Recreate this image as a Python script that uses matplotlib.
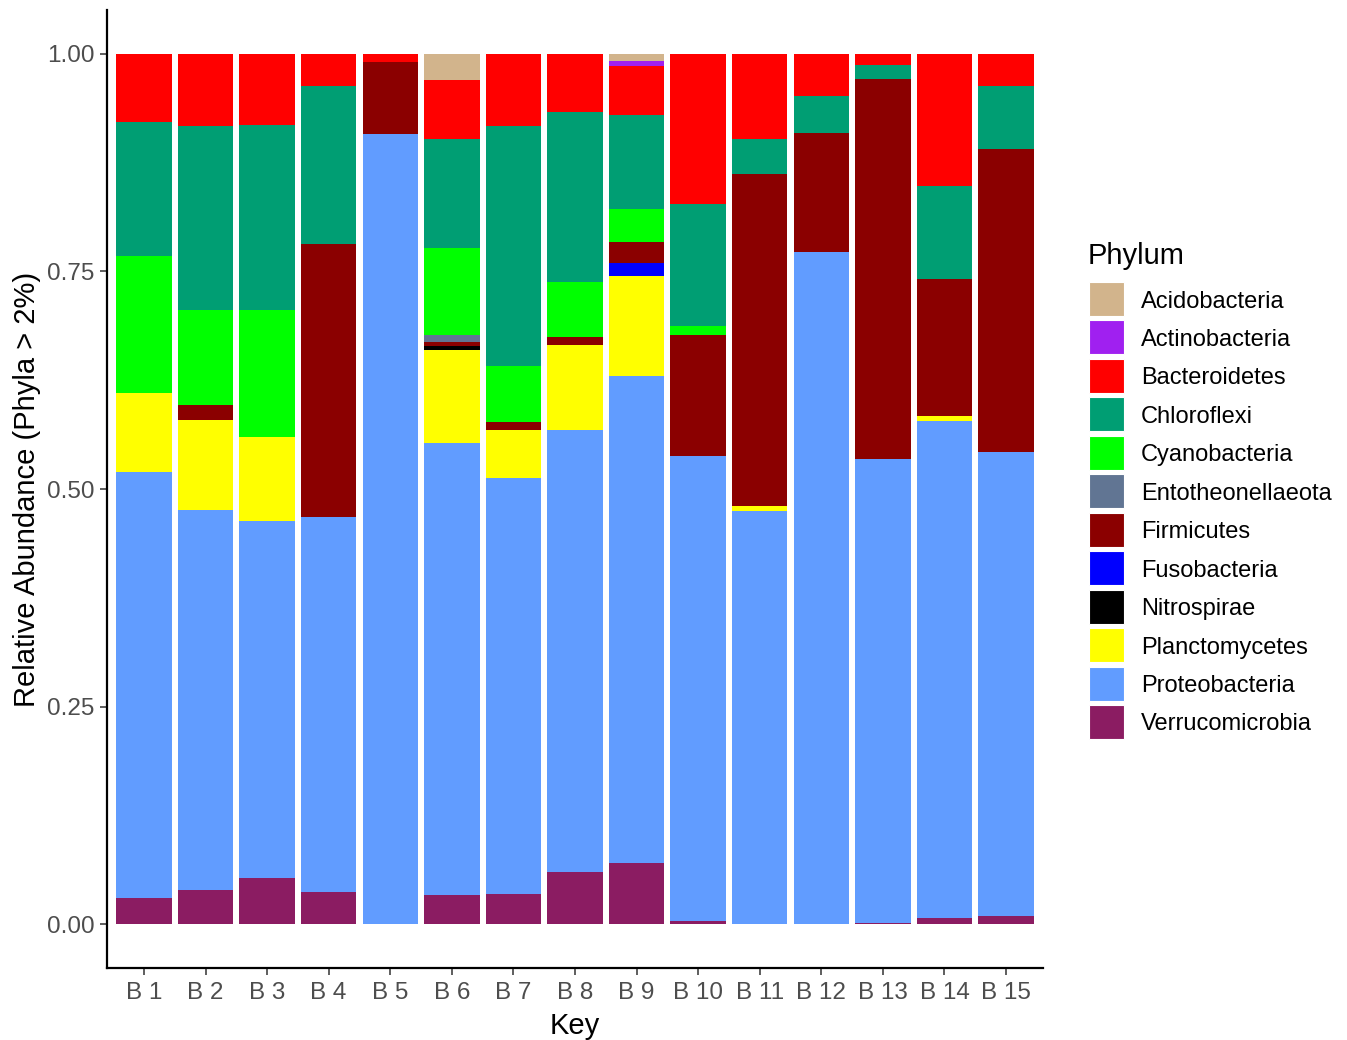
# Stacked relative abundance of phyla (> 2%) per sample
import numpy as np
import matplotlib.pyplot as plt
from matplotlib.patches import Rectangle

plt.rcParams['font.family'] = ['Liberation Sans', 'DejaVu Sans']

keys = ['B 1', 'B 2', 'B 3', 'B 4', 'B 5', 'B 6', 'B 7', 'B 8',
        'B 9', 'B 10', 'B 11', 'B 12', 'B 13', 'B 14', 'B 15']

# legend order (top of the stack first)
phyla = ['Acidobacteria', 'Actinobacteria', 'Bacteroidetes', 'Chloroflexi',
         'Cyanobacteria', 'Entotheonellaeota', 'Firmicutes', 'Fusobacteria',
         'Nitrospirae', 'Planctomycetes', 'Proteobacteria', 'Verrucomicrobia']
colours = ['#D2B48C', '#A020F0', '#FF0000', '#009E73', '#00FF00', '#617593',
           '#8B0000', '#0000FF', '#000000', '#FFFF00', '#619CFF', '#8B1C62']

# relative abundances per sample
acidobacteria     = [0, 0, 0, 0, 0, .030, 0, 0, .009, 0, 0, 0, 0, 0, 0]
actinobacteria    = [0, 0, 0, 0, 0, 0, 0, 0, .005, 0, 0, 0, 0, 0, 0]
bacteroidetes     = [.079, .083, .082, .037, .010, .068, .083, .067, .057, .173, .098, .049, .013, .152, .037]
chloroflexi       = [.153, .211, .213, .182, 0, .125, .276, .195, .107, .140, .040, .042, .016, .107, .073]
cyanobacteria     = [.158, .109, .145, 0, 0, .100, .064, .063, .038, .010, 0, 0, 0, 0, 0]
entotheonellaeota = [0, 0, 0, 0, 0, .008, 0, 0, 0, 0, 0, 0, 0, 0, 0]
firmicutes        = [0, .018, 0, .313, .082, .005, .009, .010, .024, .139, .382, .137, .437, .157, .347]
fusobacteria      = [0, 0, 0, 0, 0, 0, 0, 0, .016, 0, 0, 0, 0, 0, 0]
nitrospirae       = [0, 0, 0, 0, 0, .004, 0, 0, 0, 0, 0, 0, 0, 0, 0]
planctomycetes    = [.091, .103, .097, 0, 0, .107, .055, .097, .114, 0, .005, 0, 0, .006, 0]
proteobacteria    = [.489, .436, .410, .431, .908, .519, .478, .508, .560, .534, .475, .772, .532, .571, .533]
verrucomicrobia   = [.030, .040, .053, .037, 0, .034, .035, .060, .070, .004, 0, 0, .002, .007, .010]

abund = [acidobacteria, actinobacteria, bacteroidetes, chloroflexi,
         cyanobacteria, entotheonellaeota, firmicutes, fusobacteria,
         nitrospirae, planctomycetes, proteobacteria, verrucomicrobia]

W, H = 1347, 1040
fig = plt.figure(figsize=(W / 100, H / 100), dpi=100)
ax = fig.add_axes([107 / W, 1 - 968 / H, (1043 - 107) / W, (968 - 10) / H])

x = np.arange(1, len(keys) + 1)
bottom = np.zeros(len(keys))
# stack from the last level upwards, like ggplot does
for name, col, vals in reversed(list(zip(phyla, colours, abund))):
    vals = np.array(vals)
    ax.bar(x, vals, width=0.9, bottom=bottom, color=col, linewidth=0)
    bottom += vals

ax.set_xlim(0.4, 15.6)
ax.set_ylim(-0.05, 1.05)
ax.set_xticks(x)
ax.set_xticklabels(keys)
ax.set_yticks([0, 0.25, 0.5, 0.75, 1.0])
ax.set_yticklabels(['0.00', '0.25', '0.50', '0.75', '1.00'])
ax.tick_params(axis='both', labelsize=17.5, labelcolor='#4D4D4D', color='#333333',
               length=5, width=1.1)
ax.tick_params(axis='x', pad=5)
ax.tick_params(axis='y', pad=4)
for s in ['top', 'right']:
    ax.spines[s].set_visible(False)
for s in ['left', 'bottom']:
    ax.spines[s].set_linewidth(1.6)

ax.set_xlabel('Key', fontsize=21, labelpad=6)
ax.set_ylabel('Relative Abundance (Phyla > 2%)', fontsize=21, labelpad=4)

# legend drawn by hand in pixel positions
fig.text(1088 / W, 1 - 264 / H, 'Phylum', fontsize=21, ha='left', va='baseline')
for i, (name, col) in enumerate(zip(phyla, colours)):
    top = 282 + 38.45 * i
    fig.add_artist(Rectangle((1089 / W, 1 - (top + 34) / H), 35 / W, 34 / H,
                             transform=fig.transFigure, facecolor=col,
                             edgecolor='white', linewidth=0.8))
    fig.text(1141 / W, 1 - (top + 19.5) / H, name, fontsize=17, ha='left', va='center')

fig.savefig('out.png', dpi=100)
